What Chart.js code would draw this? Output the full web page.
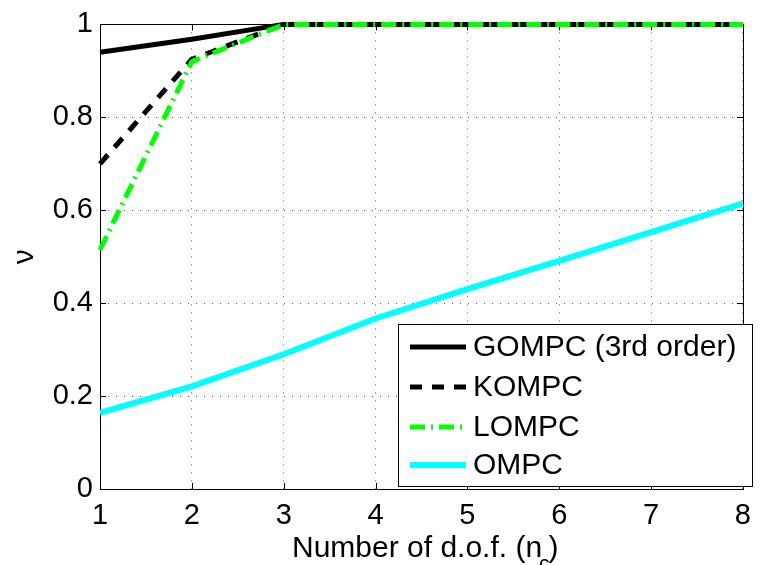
<!DOCTYPE html>
<html>
<head>
<meta charset="utf-8">
<script src="https://cdn.jsdelivr.net/npm/chart.js@4.4.1/dist/chart.umd.min.js"></script>
<style>
  html, body { margin: 0; padding: 0; background: #fff; }
  #wrap { width: 761px; height: 565px; }
</style>
</head>
<body>
<div id="wrap"><canvas id="myChart"></canvas></div>
<script>
var dof = [1, 2, 3, 4, 5, 6, 7, 8];
var gompc = [0.940, 0.968, 1, 1, 1, 1, 1, 1];
var kompc = [0.700, 0.925, 1, 1, 1, 1, 1, 1];
var lompc = [0.515, 0.920, 1, 1, 1, 1, 1, 1];
var ompc  = [0.164, 0.221, 0.290, 0.367, 0.430, 0.491, 0.553, 0.615];
var yTicks = [0, 0.2, 0.4, 0.6, 0.8, 1];

var FONT = '"Liberation Sans", Arial, Helvetica, sans-serif';

function points(vals) {
  return dof.map(function(x, i) { return { x: x, y: vals[i] }; });
}

// box round the axes with inward ticks, as in the old plotting style
var frame = {
  id: 'frame',
  beforeDatasetsDraw: function(chart) {
    var ctx = chart.ctx, a = chart.chartArea;
    var xs = chart.scales.x, ys = chart.scales.y;
    ctx.save();
    ctx.strokeStyle = '#000';
    ctx.lineWidth = 1;
    ctx.strokeRect(Math.round(a.left) + 0.5, Math.round(a.top) + 0.5,
                   Math.round(a.right - a.left), Math.round(a.bottom - a.top));
    ctx.beginPath();
    dof.forEach(function(v) {
      var px = Math.round(xs.getPixelForValue(v)) + 0.5;
      ctx.moveTo(px, a.bottom); ctx.lineTo(px, a.bottom - 6);
      ctx.moveTo(px, a.top); ctx.lineTo(px, a.top + 6);
    });
    yTicks.forEach(function(v) {
      var py = Math.round(ys.getPixelForValue(v)) + 0.5;
      ctx.moveTo(a.left, py); ctx.lineTo(a.left + 6, py);
      ctx.moveTo(a.right, py); ctx.lineTo(a.right - 6, py);
    });
    ctx.stroke();
    ctx.restore();
  },
  afterDraw: function(chart) {
    var ctx = chart.ctx;
    ctx.save();
    // x axis label with subscript
    ctx.fillStyle = '#000';
    ctx.textBaseline = 'alphabetic';
    ctx.textAlign = 'left';
    var x0 = 292, base = 557;
    ctx.font = '30px ' + FONT;
    var main = 'Number of d.o.f. (n';
    ctx.fillText(main, x0, base);
    var w = ctx.measureText(main).width;
    ctx.font = '21px ' + FONT;
    ctx.fillText('c', x0 + w - 3, base + 13);
    var wc = ctx.measureText('c').width;
    ctx.font = '30px ' + FONT;
    ctx.fillText(')', x0 + w + wc - 4, base);

    // legend box
    var lx = 398, ly = 324, lw = 354, lh = 162;
    ctx.fillStyle = '#fff';
    ctx.fillRect(lx, ly, lw, lh);
    ctx.strokeStyle = '#000';
    ctx.lineWidth = 1;
    ctx.strokeRect(lx + 0.5, ly + 0.5, lw, lh);
    var rows = [347, 387, 427, 465];
    chart.data.datasets.forEach(function(ds, i) {
      var y = rows[i];
      ctx.save();
      ctx.strokeStyle = ds.borderColor;
      ctx.lineWidth = ds.borderWidth;
      ctx.setLineDash(ds.borderDash || []);
      ctx.beginPath();
      ctx.moveTo(410, y);
      ctx.lineTo(466, y);
      ctx.stroke();
      ctx.restore();
      ctx.fillStyle = '#000';
      ctx.font = '30px ' + FONT;
      ctx.textBaseline = 'middle';
      ctx.fillText(ds.label, 473, y + 1);
    });
    ctx.restore();
  }
};

var ctx = document.getElementById('myChart').getContext('2d');
var config = {
  type: 'line',
  data: {
    datasets: [{
      label: 'GOMPC (3rd order)',
      data: points(gompc),
      borderColor: '#000000',
      borderWidth: 5,
      order: 3
    }, {
      label: 'KOMPC',
      data: points(kompc),
      borderColor: '#000000',
      borderWidth: 5,
      borderDash: [12, 10],
      order: 2
    }, {
      label: 'LOMPC',
      data: points(lompc),
      borderColor: '#00ff00',
      borderWidth: 5,
      borderDash: [15, 6, 2, 6],
      order: 1
    }, {
      label: 'OMPC',
      data: points(ompc),
      borderColor: '#00ffff',
      borderWidth: 6,
      order: 0
    }]
  },
  options: {
    responsive: true,
    maintainAspectRatio: false,
    animation: false,
    devicePixelRatio: 1,
    layout: { padding: { left: 0, top: 19, right: 9, bottom: 0 } },
    elements: {
      point: { radius: 0 },
      line: { tension: 0, borderCapStyle: 'butt', borderJoinStyle: 'round' }
    },
    datasets: { line: { clip: 8 } },
    plugins: {
      legend: { display: false },
      tooltip: { enabled: false }
    },
    scales: {
      x: {
        type: 'linear',
        min: 1,
        max: 8,
        afterFit: function(s) { s.height = 76; },
        ticks: {
          stepSize: 1,
          color: '#000',
          padding: 10,
          maxRotation: 0,
          font: { family: FONT, size: 29 }
        },
        grid: { color: 'rgba(0,0,0,0.65)', lineWidth: 1, drawTicks: false },
        border: { display: false, dash: [1, 7] }
      },
      y: {
        min: 0,
        max: 1,
        afterFit: function(s) { s.width = 100; },
        ticks: {
          stepSize: 0.2,
          color: '#000',
          padding: 7,
          font: { family: FONT, size: 29 },
          callback: function(v) { return String(Math.round(v * 10) / 10); }
        },
        grid: { color: 'rgba(0,0,0,0.65)', lineWidth: 1, drawTicks: false },
        border: { display: false, dash: [1, 7] },
        title: {
          display: true,
          text: 'ν',
          color: '#000',
          padding: { top: 7, bottom: 0 },
          font: { family: FONT, size: 30 }
        }
      }
    }
  },
  plugins: [frame]
};
var myChart = new Chart(ctx, config);
</script>
</body>
</html>
